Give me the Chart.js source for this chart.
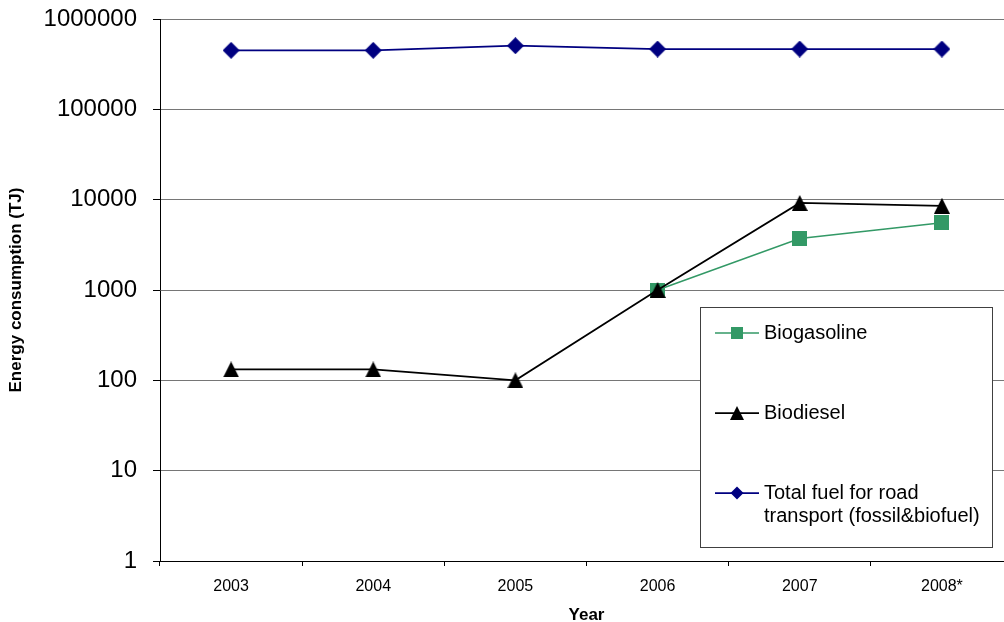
<!DOCTYPE html>
<html>
<head>
<meta charset="utf-8">
<script src="https://cdn.jsdelivr.net/npm/chart.js@4"></script>
<style>
  html, body { margin: 0; padding: 0; overflow: hidden; background: #fff; }
  canvas { display: block; }
</style>
</head>
<body>
<canvas id="chart" width="1030" height="622"></canvas>
<script>
// Energy consumption in road transport, TJ (log scale)
const years = ['2003', '2004', '2005', '2006', '2007', '2008*'];
const biogasoline = [null, null, null, 1000, 3720, 5550];
const biodiesel = [132, 132, 100, 1000, 9200, 8560];
const totalRoadFuel = [450000, 450000, 506000, 465000, 465000, 465000];
const yTicks = [1, 10, 100, 1000, 10000, 100000, 1000000];
const seriesNames = ['Biogasoline', 'Biodiesel', 'Total fuel for road transport (fossil&biofuel)'];
const legendLines = [['Biogasoline'], ['Biodiesel'], ['Total fuel for road', 'transport (fossil&biofuel)']];

const FONT = '"Liberation Sans", Arial, Helvetica, sans-serif';
const GREEN = '#339966';
const NAVY = '#000080';
const BLACK = '#000000';

function traceMarker(ctx, shape, cx, cy, s) {
  const h = s / 2;
  ctx.beginPath();
  if (shape === 'square') {
    ctx.rect(cx - h, cy - h, s, s);
  } else if (shape === 'triangle') {
    ctx.moveTo(cx, cy - h);
    ctx.lineTo(cx + h, cy + h);
    ctx.lineTo(cx - h, cy + h);
    ctx.closePath();
  } else {
    ctx.moveTo(cx, cy - h);
    ctx.lineTo(cx + h, cy);
    ctx.lineTo(cx, cy + h);
    ctx.lineTo(cx - h, cy);
    ctx.closePath();
  }
}

function markerImage(shape, size, color) {
  const c = document.createElement('canvas');
  c.width = c.height = size;
  const ctx = c.getContext('2d');
  ctx.fillStyle = color;
  traceMarker(ctx, shape, size / 2, size / 2, size);
  ctx.fill();
  return c;
}

const markers = [
  { shape: 'square', color: GREEN, plot: 15, legend: 12 },
  { shape: 'triangle', color: BLACK, plot: 16, legend: 14 },
  { shape: 'diamond', color: NAVY, plot: 17, legend: 13 }
];

// Framed legend with a line-and-marker sample per series
const boxLegend = {
  id: 'boxLegend',
  afterDraw(chart) {
    const ctx = chart.ctx;
    ctx.save();
    ctx.fillStyle = '#fff';
    ctx.fillRect(700, 307, 292, 240);
    ctx.strokeStyle = '#404040';
    ctx.lineWidth = 1;
    ctx.strokeRect(700.5, 307.5, 292, 240);
    const rowY = [333, 413, 493];
    chart.data.datasets.forEach((ds, i) => {
      const y = rowY[i];
      ctx.strokeStyle = ds.borderColor;
      ctx.lineWidth = ds.borderWidth;
      ctx.beginPath();
      ctx.moveTo(715, y);
      ctx.lineTo(759, y);
      ctx.stroke();
      ctx.fillStyle = markers[i].color;
      traceMarker(ctx, markers[i].shape, 737, y, markers[i].legend);
      ctx.fill();
      ctx.fillStyle = '#000';
      ctx.font = '20px ' + FONT;
      ctx.textBaseline = 'middle';
      ctx.textAlign = 'left';
      legendLines[i].forEach((t, k) => ctx.fillText(t, 764, y + k * 23.5));
    });
    ctx.restore();
  }
};

const seriesValues = [biogasoline, biodiesel, totalRoadFuel];
const lineColors = [GREEN, BLACK, NAVY];
const lineWidths = [1.5, 1.75, 1.75];
const drawOrder = [2, 1, 3];

new Chart(document.getElementById('chart'), {
  type: 'line',
  data: {
    labels: years,
    datasets: seriesNames.map((name, i) => ({
      label: name,
      data: seriesValues[i],
      borderColor: lineColors[i],
      backgroundColor: lineColors[i],
      borderWidth: lineWidths[i],
      pointStyle: markerImage(markers[i].shape, markers[i].plot, markers[i].color),
      pointRadius: 8,
      pointHoverRadius: 8,
      tension: 0,
      fill: false,
      order: drawOrder[i]
    }))
  },
  options: {
    responsive: false,
    animation: false,
    layout: { padding: { left: 0, top: 19, right: 17, bottom: 0 } },
    plugins: {
      legend: { display: false },
      tooltip: { enabled: false }
    },
    scales: {
      x: {
        offset: true,
        afterFit: s => { s.height = 61; s.paddingLeft = 0; s.paddingRight = 0; },
        ticks: { font: { family: FONT, size: 16 }, color: '#000', padding: 11, maxRotation: 0, autoSkip: false },
        grid: { offset: true, drawOnChartArea: false, tickLength: 5, tickColor: '#000', color: '#000' },
        border: { color: '#000', width: 1 },
        title: {
          display: true, text: 'Year', color: '#000',
          font: { family: FONT, size: 17, weight: 'bold', lineHeight: 0.75 },
          padding: { top: 0, bottom: 0 }
        }
      },
      y: {
        type: 'logarithmic',
        min: 1,
        max: 1000000,
        afterBuildTicks: s => { s.ticks = yTicks.map(v => ({ value: v })); },
        afterFit: s => { s.width = 160; s.paddingTop = 0; s.paddingBottom = 0; },
        ticks: { callback: v => String(v), font: { family: FONT, size: 24 }, color: '#000', padding: 16 },
        grid: { color: '#767676', tickColor: '#000', tickLength: 7, lineWidth: 1 },
        border: { color: '#000', width: 1 },
        title: {
          display: true, text: 'Energy consumption (TJ)', color: '#000',
          font: { family: FONT, size: 17, weight: 'bold', lineHeight: 1 },
          padding: { top: 8, bottom: 0 }
        }
      }
    }
  },
  plugins: [boxLegend]
});
</script>
</body>
</html>
